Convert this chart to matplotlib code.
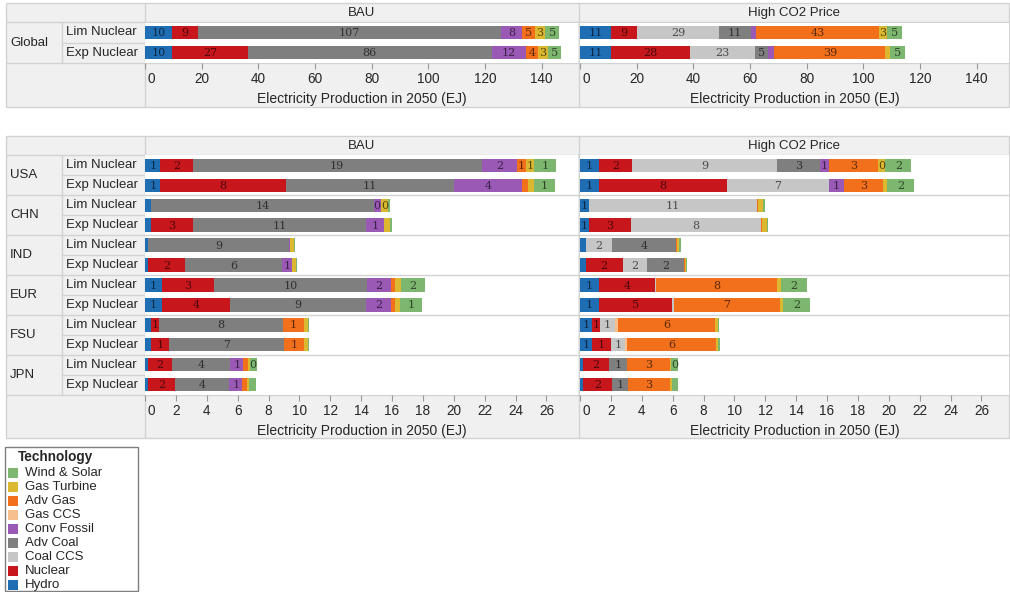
import matplotlib
matplotlib.use('Agg')
import matplotlib.pyplot as plt
from matplotlib.patches import Rectangle
import matplotlib.transforms as mtransforms

# ---------------- data ----------------
technologies = ['Hydro', 'Nuclear', 'Coal CCS', 'Adv Coal', 'Conv Fossil',
                'Gas CCS', 'Adv Gas', 'Gas Turbine', 'Wind & Solar']
tech_colors = ['#1f6db3', '#c8161d', '#c6c6c6', '#7f7f7f', '#9b59b6',
               '#f7be8e', '#f26f1b', '#dcb830', '#7db66e']
scenarios = ['Lim Nuclear', 'Exp Nuclear']
regions = ['USA', 'CHN', 'IND', 'EUR', 'FSU', 'JPN']
panels = ['BAU', 'High CO2 Price']
xlabel = 'Electricity Production in 2050 (EJ)'
top_ticks = [0, 20, 40, 60, 80, 100, 120, 140]
bottom_ticks = list(range(0, 27, 2))

# values in technology order (Hydro ... Wind & Solar), rows: Lim, Exp
global_bau = [
    [9.6, 9.0, 0, 107.0, 7.6, 0, 4.6, 3.3, 5.2],
    [9.6, 26.6, 0, 86.3, 12.1, 0, 4.2, 3.3, 4.6],
]
global_co2 = [
    [11.0, 9.2, 29.0, 11.0, 2.1, 0, 43.2, 2.8, 5.4],
    [10.9, 28.1, 22.6, 4.7, 2.3, 0, 39.2, 1.7, 5.3],
]
# rows: USA Lim, USA Exp, CHN Lim, CHN Exp, IND ..., EUR ..., FSU ..., JPN ...
region_bau = [
    [1.0, 2.1, 0, 18.7, 2.3, 0, 0.55, 0.55, 1.4],
    [1.0, 8.1, 0, 10.9, 4.4, 0, 0.41, 0.36, 1.4],
    [0.4, 0, 0, 14.4, 0.48, 0, 0, 0.48, 0.12],
    [0.4, 2.7, 0, 11.2, 1.2, 0, 0, 0.4, 0.08],
    [0.2, 0, 0, 9.1, 0.07, 0, 0, 0.25, 0.1],
    [0.2, 2.4, 0, 6.3, 0.65, 0, 0, 0.24, 0.06],
    [1.08, 3.38, 0, 9.9, 1.6, 0, 0.24, 0.36, 1.55],
    [1.08, 4.44, 0, 8.8, 1.6, 0, 0.24, 0.36, 1.45],
    [0.4, 0.52, 0, 8.0, 0, 0, 1.37, 0.24, 0.07],
    [0.4, 1.18, 0, 7.4, 0, 0, 1.35, 0.2, 0.07],
    [0.2, 1.55, 0, 3.77, 0.84, 0, 0.29, 0.12, 0.48],
    [0.2, 1.74, 0, 3.53, 0.84, 0, 0.3, 0.14, 0.44],
]
region_co2 = [
    [1.22, 2.15, 9.4, 2.75, 0.58, 0, 3.2, 0.47, 1.7],
    [1.22, 8.3, 6.6, 0, 0.98, 0, 2.55, 0.26, 1.7],
    [0.58, 0, 10.9, 0, 0, 0, 0.05, 0.32, 0.15],
    [0.58, 2.7, 8.47, 0, 0, 0, 0.05, 0.3, 0.1],
    [0.36, 0, 1.74, 4.1, 0, 0, 0.1, 0.11, 0.11],
    [0.36, 2.42, 1.57, 2.36, 0, 0, 0.1, 0.05, 0.1],
    [1.22, 3.64, 0.08, 0, 0, 0, 7.8, 0.26, 1.7],
    [1.22, 4.76, 0.08, 0, 0, 0, 6.9, 0.21, 1.7],
    [0.75, 0.54, 0.96, 0, 0, 0.21, 6.3, 0.15, 0.11],
    [0.75, 1.29, 0.9, 0, 0, 0.12, 5.73, 0.15, 0.11],
    [0.21, 1.68, 0, 1.18, 0, 0, 2.76, 0.07, 0.47],
    [0.21, 1.89, 0, 1.0, 0, 0, 2.72, 0.11, 0.44],
]

# ---------------- layout ----------------
W, H = 1010, 592
plt.rcParams['font.family'] = ['Liberation Sans', 'DejaVu Sans']
FS = 9.5
GRID = '#d2d2d2'
PANEL = '#f0f0f0'
TXT = '#262626'

fig = plt.figure(figsize=(W / 100, H / 100), dpi=100)
bg = fig.add_axes([0, 0, 1, 1])
bg.set_xlim(0, W)
bg.set_ylim(H, 0)
bg.axis('off')


def frac(x0, y0, x1, y1):
    return [x0 / W, 1 - y1 / H, (x1 - x0) / W, (y1 - y0) / H]


def box(x0, y0, x1, y1, fc, ec='none', lw=1.0, z=0):
    bg.add_patch(Rectangle((x0, y0), x1 - x0, y1 - y0, facecolor=fc,
                           edgecolor=ec, linewidth=lw, zorder=z))


def hline(y, x0, x1, c=GRID):
    bg.plot([x0, x1], [y, y], color=c, lw=1, zorder=2, solid_capstyle='butt')


def vline(x, y0, y1, c=GRID):
    bg.plot([x, x], [y0, y1], color=c, lw=1, zorder=2, solid_capstyle='butt')


XL, XS, XB0, XB1, XC0, XC1 = 6, 62, 145, 578, 580, 1009


def block(ytop, yhead, yrows_end, ybot, row_labels, group_labels, group_size, ppu,
          data_pair, ticks):
    box(XL, ytop, XC1, ybot, PANEL, ec=GRID, z=1)
    hline(yhead, XL, XC1)
    hline(yrows_end, XL, XC1)
    vline(XB0, ytop, ybot)
    vline(579, ytop, ybot)
    vline(XS, yhead, yrows_end)
    nrows = len(row_labels)
    rh = (yrows_end - yhead) / nrows
    for i, lab in enumerate(row_labels):
        yc = yhead + rh * (i + 0.5)
        bg.text(XS + 4, yc, lab, ha='left', va='center', fontsize=FS, color=TXT, zorder=3)
        if i % group_size == 0:
            gy = yhead + rh * (i + group_size / 2)
            bg.text(XL + 4, gy, group_labels[i // group_size], ha='left', va='center',
                    fontsize=FS, color=TXT, zorder=3)
            if i > 0:
                hline(yhead + rh * i, XL, XC1)
        else:
            hline(yhead + rh * i, XS, XB0)
    for (x0, x1), title, rows in zip([(XB0, XB1), (XC0, XC1)], panels, data_pair):
        bg.text((x0 + x1) / 2, (ytop + yhead) / 2 + 0.5, title, ha='center', va='center',
                fontsize=FS, color=TXT, zorder=3)
        ax = fig.add_axes(frac(x0, yhead + 0.5, x1, yrows_end - 0.5))
        ax.set_facecolor('white')
        xmax = (x1 - x0) / ppu
        ax.set_xlim(0, xmax)
        ax.set_ylim(nrows - 0.5, -0.5)
        for s in ax.spines.values():
            s.set_visible(False)
        for g in range(group_size, nrows, group_size):
            ax.axhline(g - 0.5, color=GRID, lw=1)
        for r, vals in enumerate(rows):
            left = 0.0
            for t, v in enumerate(vals):
                if v > 0:
                    ax.barh(r, v, left=left, height=0.68, color=tech_colors[t], linewidth=0)
                    if v * ppu >= 7.0:
                        ax.text(left + v / 2, r + 0.03, f'{v:.0f}', ha='center', va='center',
                                fontsize=8, family='DejaVu Serif', color='black', alpha=0.62)
                left += v
        ax.set_yticks([])
        ax.set_xticks(ticks)
        ax.set_xticklabels([str(t) for t in ticks])
        ax.tick_params(axis='x', length=4, width=0.8, color='#999999', pad=3,
                       labelsize=FS + 0.3, labelcolor=TXT)
        first = ax.get_xticklabels()[0]
        first.set_transform(first.get_transform() +
                            mtransforms.ScaledTranslation(0.06, 0, fig.dpi_scale_trans))
        ax.set_xlabel(xlabel, fontsize=10, color=TXT, labelpad=4)


block(3, 22, 63, 107, scenarios, ['Global'], 2, 2.833,
      [global_bau, global_co2], top_ticks)
block(136, 155, 395, 438, [s for _ in regions for s in scenarios], regions, 2, 15.44,
      [region_bau, region_co2], bottom_ticks)

# ---------------- legend ----------------
box(5, 447, 138, 591, 'white', ec='#7f7f7f', z=1)
bg.text(18, 457.5, 'Technology', ha='left', va='center', fontsize=FS + 0.3,
        fontweight='bold', color=TXT, zorder=3)
for i, t in enumerate(technologies[::-1]):
    yc = 473 + 14 * i
    c = tech_colors[technologies.index(t)]
    box(8, yc - 5, 18, yc + 5, c, z=3)
    bg.text(25, yc, t, ha='left', va='center', fontsize=FS, color=TXT, zorder=3)

fig.savefig('out.png', dpi=100)
